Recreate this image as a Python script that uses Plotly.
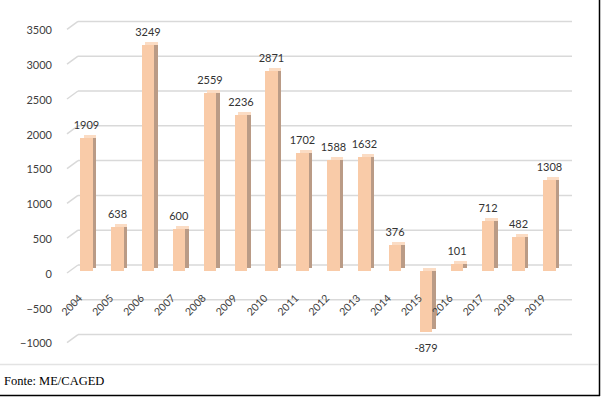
import plotly.graph_objects as go

years = ["2004", "2005", "2006", "2007", "2008", "2009", "2010", "2011",
         "2012", "2013", "2014", "2015", "2016", "2017", "2018", "2019"]
values = [1909, 638, 3249, 600, 2559, 2236, 2871, 1702,
          1588, 1632, 376, -879, 101, 712, 482, 1308]
y_ticks = [-1000, -500, 0, 500, 1000, 1500, 2000, 2500, 3000, 3500]
source_text = "Fonte: ME/CAGED"

FRONT = "#F9CBA8"
SIDE = "#BA9B86"
TOP = "#FBDCC4"

W, H = 601, 397
ML, MR, MT, MB = 71, 36, 10, 42
PW = W - ML - MR
PH = H - MT - MB
YMIN, YMAX = -1207, 3750
upx = (YMAX - YMIN) / PH           # data units per pixel
cpx = PW / len(years)              # pixels per category

def px_to_xpaper(px):
    return (px - ML) / PW

def px_to_ypaper(py):
    return (H - MB - py) / PH

bw = 12.5 / cpx                     # front face width (category units)
depth_x = 3.5 / cpx                 # side depth in category units
depth_y = 3 * upx                   # top depth in data units

fig = go.Figure()

# side faces
fig.add_trace(go.Bar(
    x=years, y=values, base=[depth_y] * len(values),
    width=depth_x, offset=bw / 2,
    marker=dict(color=SIDE, line=dict(width=0)),
    hoverinfo="skip", showlegend=False))

# top faces
fig.add_trace(go.Bar(
    x=years, y=[depth_y] * len(values), base=[max(v, 0) for v in values],
    width=bw, offset=-bw / 2 + depth_x,
    marker=dict(color=TOP, line=dict(width=0)),
    hoverinfo="skip", showlegend=False))

# front faces
fig.add_trace(go.Bar(
    x=years, y=values, width=bw, offset=-bw / 2,
    marker=dict(color=FRONT, line=dict(width=0)),
    hoverinfo="skip", showlegend=False))

# value labels
label_y = [v + 4 * upx if v > 0 else v - 6 * upx for v in values]
fig.add_trace(go.Bar(
    x=years, y=label_y, width=bw, offset=-bw / 2,
    marker=dict(color="rgba(0,0,0,0)", line=dict(width=0)),
    text=[str(v) for v in values], textposition="outside",
    constraintext="none",
    textfont=dict(family="Lato", size=11, color="#333333"),
    cliponaxis=False, hoverinfo="skip", showlegend=False))

# carrier for the label axes
fig.add_trace(go.Scatter(
    x=list(range(len(years))), y=values, xaxis="x2", yaxis="y2",
    mode="markers", marker=dict(opacity=0), hoverinfo="skip", showlegend=False))

# 3D-style gridlines on the back wall
def yfrac(v):
    return (v - YMIN) / (YMAX - YMIN)

shapes = []
for t in y_ticks:
    shapes.append(dict(type="line", xref="paper", yref="paper", layer="below",
                       x0=px_to_xpaper(67), y0=yfrac(t - 2 * upx),
                       x1=px_to_xpaper(78), y1=yfrac(t + 6 * upx),
                       line=dict(color="#D9D9D9", width=1.5)))
    shapes.append(dict(type="line", xref="paper", yref="paper", layer="below",
                       x0=px_to_xpaper(78), y0=yfrac(t + 6 * upx),
                       x1=px_to_xpaper(572), y1=yfrac(t + 6 * upx),
                       line=dict(color="#D9D9D9", width=1.5)))

# separator line above source
shapes.append(dict(type="line", xref="paper", yref="paper",
                   x0=px_to_xpaper(0), x1=px_to_xpaper(598),
                   y0=px_to_ypaper(364.5), y1=px_to_ypaper(364.5),
                   line=dict(color="#E3E3E3", width=1.5)))
# black frame right and bottom
shapes.append(dict(type="line", xref="paper", yref="paper",
                   x0=px_to_xpaper(599.5), x1=px_to_xpaper(599.5),
                   y0=px_to_ypaper(0), y1=px_to_ypaper(396),
                   line=dict(color="#000000", width=1.5)))
shapes.append(dict(type="line", xref="paper", yref="paper",
                   x0=px_to_xpaper(0), x1=px_to_xpaper(600),
                   y0=px_to_ypaper(395.5), y1=px_to_ypaper(395.5),
                   line=dict(color="#000000", width=1.5)))

label_shift = 7 / cpx
ylab_shift = 3 * upx

fig.update_layout(
    width=W, height=H,
    margin=dict(l=ML, r=MR, t=MT, b=MB, pad=0),
    paper_bgcolor="white", plot_bgcolor="white",
    barmode="overlay", bargap=0,
    shapes=shapes,
    annotations=[dict(text=source_text, xref="paper", yref="paper",
                      x=px_to_xpaper(2), y=px_to_ypaper(381),
                      xanchor="left", yanchor="middle", showarrow=False,
                      font=dict(family="Liberation Serif", size=12.5, color="#000000"))],
    xaxis=dict(type="category", range=[-0.5, 15.5],
               showline=False, showgrid=False, zeroline=False, ticks="",
               showticklabels=False),
    xaxis2=dict(range=[-0.5 + label_shift, 15.5 + label_shift],
                overlaying="x", anchor="free", side="bottom",
                position=px_to_ypaper(287),
                tickvals=list(range(len(years))), ticktext=years,
                showline=False, showgrid=False, zeroline=False, ticks="",
                tickangle=-45, ticklabelstandoff=2,
                tickfont=dict(family="Lato", size=10.5, color="#404040")),
    yaxis=dict(range=[YMIN, YMAX],
               showline=False, showgrid=False, zeroline=False, ticks="",
               showticklabels=False),
    yaxis2=dict(range=[YMIN + ylab_shift, YMAX + ylab_shift], tickvals=y_ticks,
                overlaying="y", anchor="x", side="left",
                showline=False, showgrid=False, zeroline=False, ticks="",
                ticklabelstandoff=18,
                tickfont=dict(family="Lato", size=11, color="#404040")),
)

fig.write_html("out.html", config={"displayModeBar": False},
               post_script="document.body.style.margin='0';")
